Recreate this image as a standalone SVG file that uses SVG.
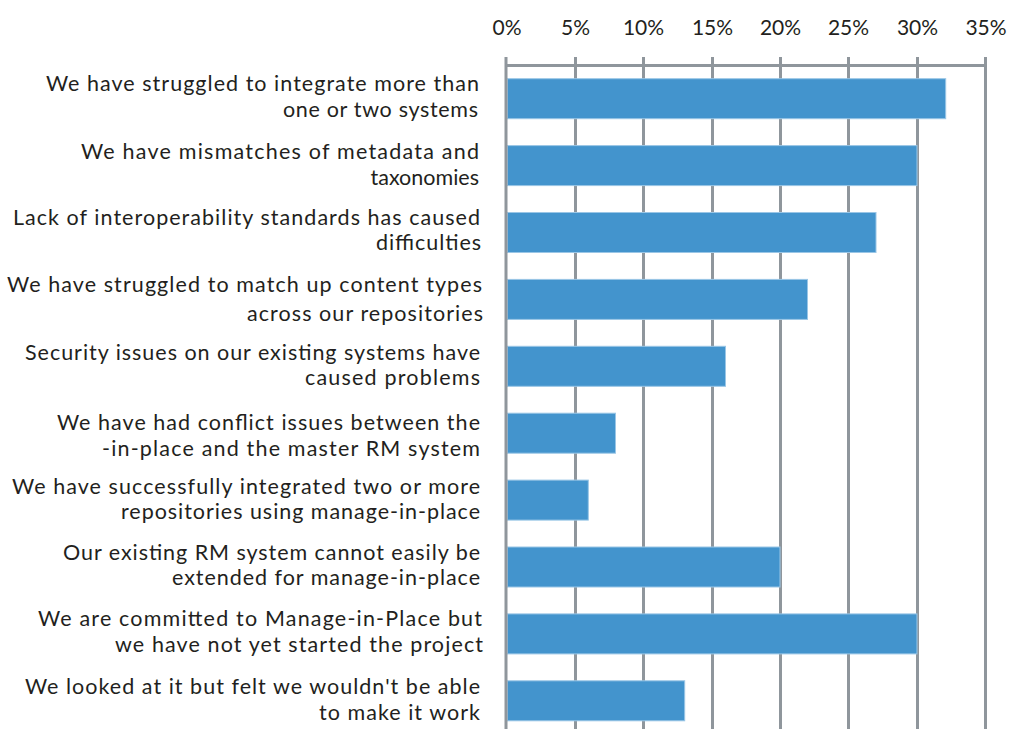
<svg xmlns="http://www.w3.org/2000/svg" width="1011" height="729" viewBox="0 0 1011 729">
<style>
.lbl{font-family:Lato,"Liberation Sans",sans-serif;font-size:21.5px;fill:#231f20}
.tick{font-family:Lato,"Liberation Sans",sans-serif;font-size:21px;fill:#231f20;text-anchor:middle}
.grid{stroke:#8f969c;stroke-width:3;fill:none}
.bar{fill:#4394cd;stroke:#9ac6e6;stroke-width:1}
</style>
<rect width="1011" height="729" fill="#ffffff"/>
<g id="axis-labels">
<text class="tick" x="507" y="35">0%</text>
<text class="tick" x="575.5" y="35">5%</text>
<text class="tick" x="643.5" y="35">10%</text>
<text class="tick" x="712.5" y="35">15%</text>
<text class="tick" x="780.5" y="35">20%</text>
<text class="tick" x="848.5" y="35">25%</text>
<text class="tick" x="917.5" y="35">30%</text>
<text class="tick" x="986" y="35">35%</text>
</g>
<g id="grid">
<line class="grid" x1="506" y1="65.5" x2="985.5" y2="65.5"/>
<line class="grid" x1="575.5" y1="57" x2="575.5" y2="729"/>
<line class="grid" x1="643.5" y1="57" x2="643.5" y2="729"/>
<line class="grid" x1="712.5" y1="57" x2="712.5" y2="729"/>
<line class="grid" x1="780.5" y1="57" x2="780.5" y2="729"/>
<line class="grid" x1="848.5" y1="57" x2="848.5" y2="729"/>
<line class="grid" x1="917.5" y1="57" x2="917.5" y2="729"/>
<line class="grid" x1="985.5" y1="57" x2="985.5" y2="729"/>
</g>
<g id="bars">
<rect id="bar1" class="bar" x="507.5" y="78.7" width="438.2" height="40"/>
<rect id="bar2" class="bar" x="507.5" y="145.6" width="409.5" height="40"/>
<rect id="bar3" class="bar" x="507.5" y="212.5" width="368.5" height="40"/>
<rect id="bar4" class="bar" x="507.5" y="279.4" width="300" height="40"/>
<rect id="bar5" class="bar" x="507.5" y="346.3" width="218" height="40"/>
<rect id="bar6" class="bar" x="507.5" y="413.2" width="108" height="40"/>
<rect id="bar7" class="bar" x="507.5" y="480.1" width="80.8" height="40"/>
<rect id="bar8" class="bar" x="507.5" y="547" width="272.5" height="40"/>
<rect id="bar9" class="bar" x="507.5" y="613.9" width="409.5" height="40"/>
<rect id="bar10" class="bar" x="507.5" y="680.8" width="177.2" height="40"/>
</g>
<g id="zero-axis">
<line class="grid" x1="506" y1="57" x2="506" y2="729"/>
</g>
<g id="label1"><text class="lbl" x="46" y="91" textLength="433">We have struggled to integrate more than</text><text class="lbl" x="283" y="117" textLength="195">one or two systems</text></g>
<g id="label2"><text class="lbl" x="81" y="159" textLength="398">We have mismatches of metadata and</text><text class="lbl" x="479" y="185" text-anchor="end">taxonomies</text></g>
<g id="label3"><text class="lbl" x="13" y="225" textLength="467">Lack of interoperability standards has caused</text><text class="lbl" x="376" y="250" textLength="105">difficulties</text></g>
<g id="label4"><text class="lbl" x="7" y="292" textLength="475">We have struggled to match up content types</text><text class="lbl" x="247" y="321" textLength="236">across our repositories</text></g>
<g id="label5"><text class="lbl" x="25" y="360" textLength="455">Security issues on our existing systems have</text><text class="lbl" x="305" y="385" textLength="175">caused problems</text></g>
<g id="label6"><text class="lbl" x="57" y="430" textLength="423">We have had conflict issues between the</text><text class="lbl" x="102" y="456" textLength="378">-in-place and the master RM system</text></g>
<g id="label7"><text class="lbl" x="12" y="494" textLength="468">We have successfully integrated two or more</text><text class="lbl" x="121" y="519" textLength="359">repositories using manage-in-place</text></g>
<g id="label8"><text class="lbl" x="63" y="560" textLength="417">Our existing RM system cannot easily be</text><text class="lbl" x="172" y="585" textLength="308">extended for manage-in-place</text></g>
<g id="label9"><text class="lbl" x="38" y="626" textLength="444">We are committed to Manage-in-Place but</text><text class="lbl" x="115" y="652" textLength="368">we have not yet started the project</text></g>
<g id="label10"><text class="lbl" x="25" y="694" textLength="455">We looked at it but felt we wouldn't be able</text><text class="lbl" x="319" y="720" textLength="161">to make it work</text></g>
</svg>
